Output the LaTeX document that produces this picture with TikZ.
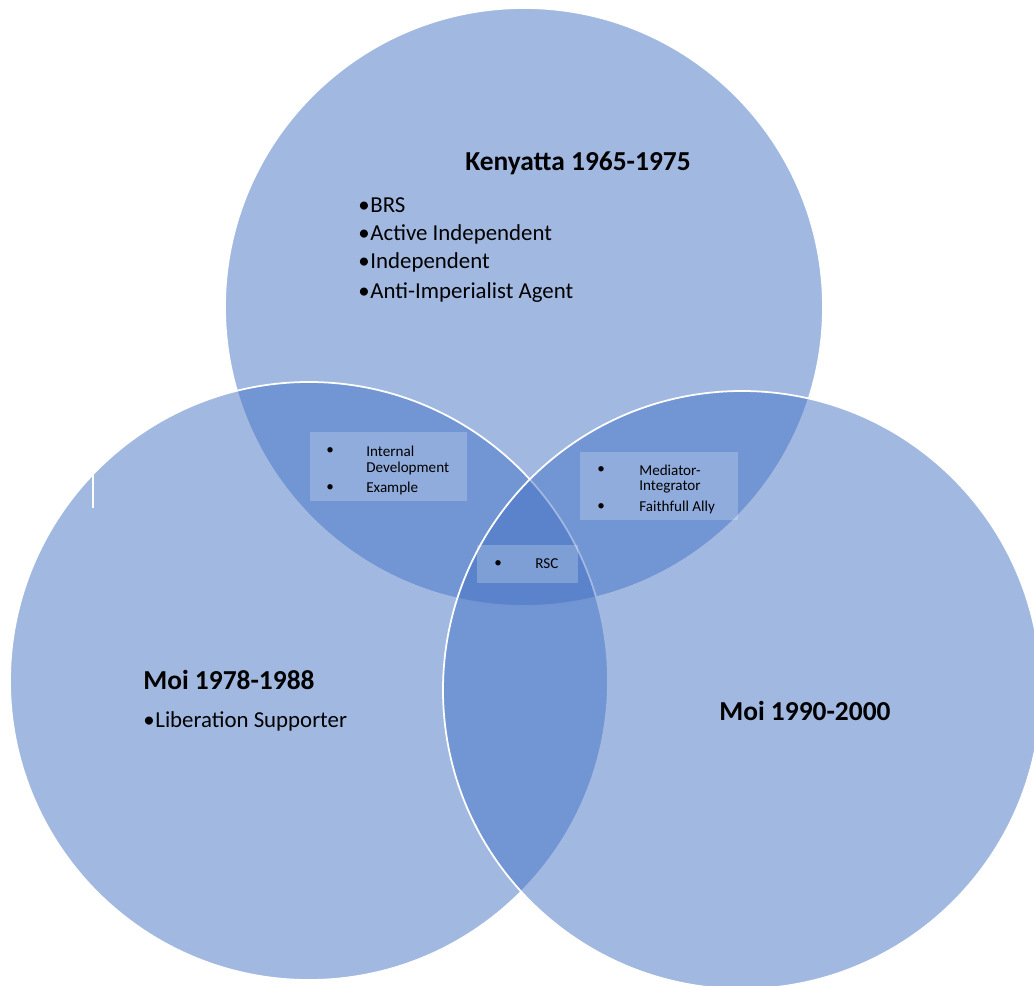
\documentclass[tikz,border=0pt]{standalone}
\usepackage{fontspec}
\setmainfont{Carlito}
\usepackage{xcolor}
\definecolor{accent}{RGB}{68,114,196}

\begin{document}
\begin{tikzpicture}[x=0.02cm, y=-0.02cm,
        venn/.style={fill=accent, fill opacity=0.5, draw=white, line width=1pt},
        infobox/.style={fill=white, fill opacity=0.22},
        head/.style={font=\bfseries\fontsize{15.6}{18}\selectfont, anchor=west, inner sep=0pt},
        item/.style={font=\fontsize{13}{15}\selectfont, anchor=west, inner sep=0pt},
        small/.style={font=\fontsize{8.6}{10}\selectfont, anchor=west, inner sep=0pt}]
        \useasboundingbox (0,0) rectangle (1034,986);
        \clip (0,0) rectangle (1034,986);

        % Draw the three circles
        \draw[venn] (524,307) circle (299);
        \draw[venn] (309,681) circle (299);
        \draw[venn] (742,690) circle (299);

        % White tick on the left circle
        \draw[white, line width=1pt] (93,475) -- (93,508);

        % Kenyatta circle
        \node[head] (kenyatta) at (465,163) {Kenyatta 1965-1975};
        \node[item] (brs)    at (358,205) {•\kern0.4pt BRS};
        \node[item] (active) at (358,234) {•\kern0.4pt Active Independent};
        \node[item] (indep)  at (358,262) {•\kern0.4pt Independent};
        \node[item] (anti)   at (358,293) {•\kern0.4pt Anti-Imperialist Agent};

        % Moi circles
        \node[head] (moiA) at (143,680) {Moi 1978-1988};
        \node[item] (liber) at (143,721) {•\kern0.4pt Liberation Supporter};
        \node[head] (moiB) at (719,711) {Moi 1990-2000};

        % Boxes in the overlaps
        \fill[infobox] (310,432) rectangle (467,501);
        \node[small] (bulA) at (326,451) {•};
        \node[small] (intdev) at (366,451) {Internal};
        \node[small] (devel) at (366,468) {Development};
        \node[small] (bulB) at (326,488) {•};
        \node[small] (exmpl) at (366,488) {Example};

        \fill[infobox] (580,452) rectangle (738,520);
        \node[small] (bulC) at (597,470) {•};
        \node[small] (medi) at (639,470) {Mediator-};
        \node[small] (integ) at (639,487) {Integrator};
        \node[small] (bulD) at (597,507) {•};
        \node[small] (ally) at (639,507) {Faithfull Ally};

        \fill[infobox] (477,545) rectangle (578,583);
        \node[small] (bulE) at (494,564) {•};
        \node[small] (rsc) at (535,564) {RSC};
\end{tikzpicture}
\end{document}
